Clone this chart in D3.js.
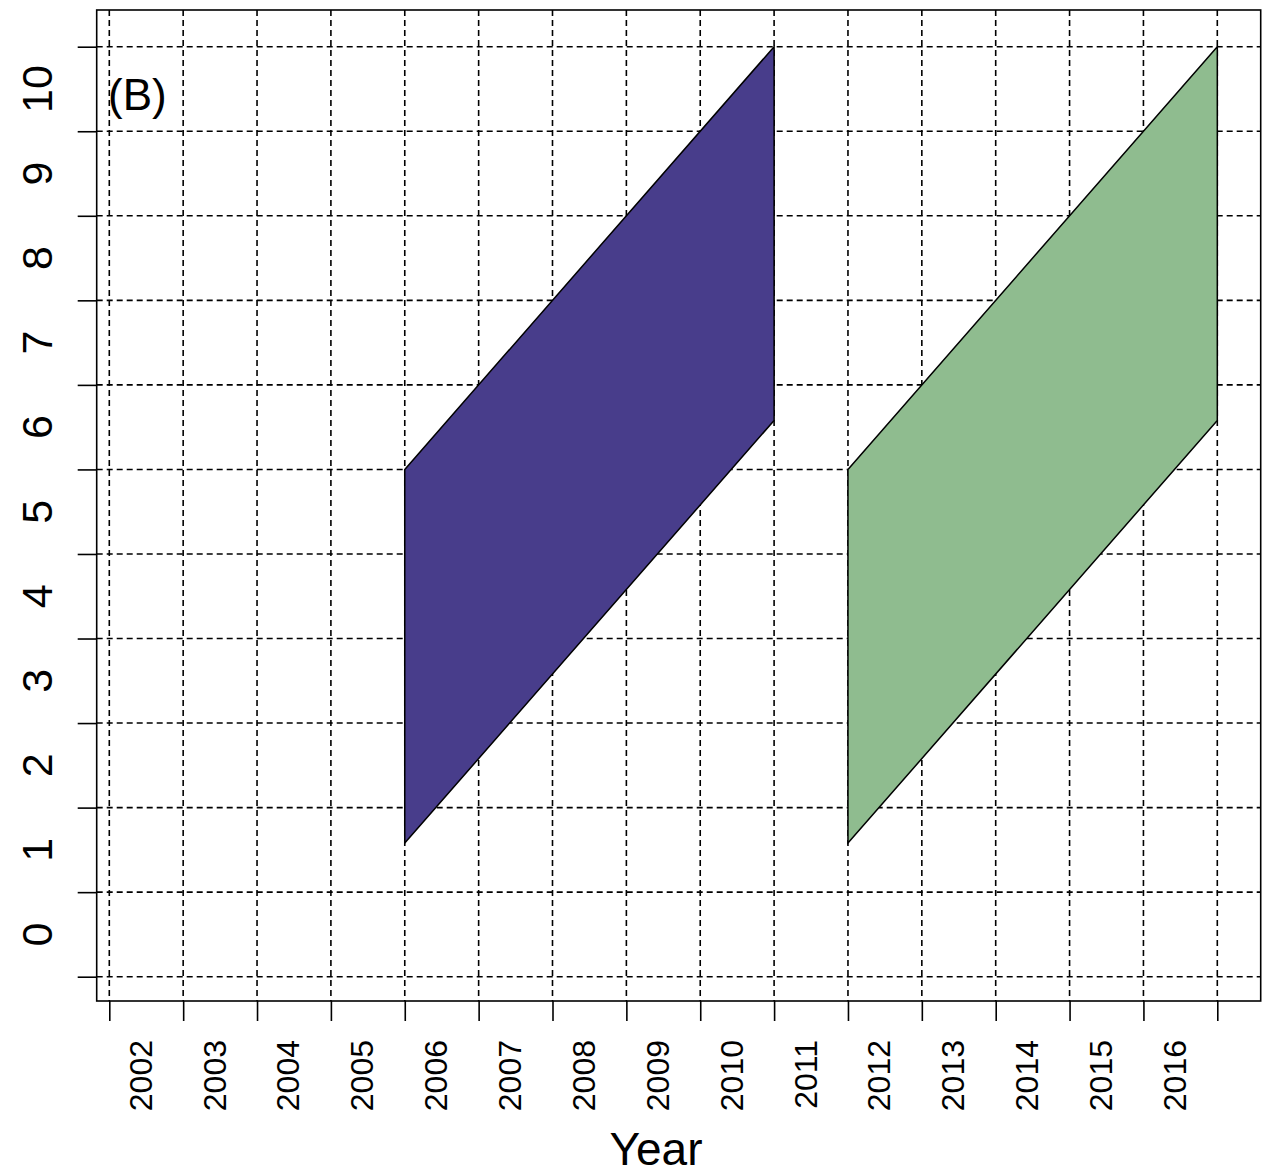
<!DOCTYPE html>
<html>
<head>
<meta charset="utf-8">
<script src="https://cdn.jsdelivr.net/npm/d3@7"></script>
<style>
  body { margin: 0; background: #fff; }
  text { font-family: "Liberation Sans", Arial, sans-serif; fill: #000; }
</style>
</head>
<body>
<div id="chart"></div>
<script>
// year labels and value labels
const years = [2002, 2003, 2004, 2005, 2006, 2007, 2008, 2009, 2010, 2011, 2012, 2013, 2014, 2015, 2016];
const levels = [0, 1, 2, 3, 4, 5, 6, 7, 8, 9, 10];

// tick / grid positions sit half a step off the labels
const xGrid = [2001.5, 2002.5, 2003.5, 2004.5, 2005.5, 2006.5, 2007.5, 2008.5, 2009.5, 2010.5, 2011.5, 2012.5, 2013.5, 2014.5, 2015.5, 2016.5];
const yGrid = [-0.5, 0.5, 1.5, 2.5, 3.5, 4.5, 5.5, 6.5, 7.5, 8.5, 9.5, 10.5];

// the two bands: [year, value] corners
const bandA = [[2005.5, 5.5], [2010.5, 10.5], [2010.5, 6.08], [2005.5, 1.08]];
const bandB = [[2011.5, 5.5], [2016.5, 10.5], [2016.5, 6.08], [2011.5, 1.08]];
const bandColors = ["#483D8B", "#8FBC8F"];

const width = 1269;
const height = 1176;

// plot box
const boxLeft = 96.7;
const boxRight = 1260.7;
const boxTop = 10;
const boxBottom = 1001;

const svg = d3.select("#chart")
    .append("svg")
    .attr("width", width)
    .attr("height", height);

const x = d3.scaleLinear().domain([2001.5, 2016.5]).range([109.3, 1217.3]);
const y = d3.scaleLinear().domain([-0.5, 10.5]).range([976.7, 46.7]);

// dashed grid (drawn first, bands cover it)
const grid = svg.append("g")
    .attr("stroke", "#000")
    .attr("stroke-width", 1.6)
    .attr("stroke-dasharray", "6,4");

grid.selectAll("line.v")
    .data(xGrid)
    .enter().append("line")
    .attr("class", "v")
    .attr("x1", d => x(d)).attr("x2", d => x(d))
    .attr("y1", boxTop).attr("y2", boxBottom);

grid.selectAll("line.h")
    .data(yGrid)
    .enter().append("line")
    .attr("class", "h")
    .attr("y1", d => y(d)).attr("y2", d => y(d))
    .attr("x1", boxLeft).attr("x2", boxRight);

// bands
const line = d3.line().x(d => x(d[0])).y(d => y(d[1]));
svg.append("g")
    .selectAll("path")
    .data([bandA, bandB])
    .enter().append("path")
    .attr("d", d => line(d) + "Z")
    .attr("fill", (d, i) => bandColors[i])
    .attr("stroke", "#000")
    .attr("stroke-width", 1.5)
    .attr("stroke-linejoin", "miter");

// box
svg.append("rect")
    .attr("x", boxLeft).attr("y", boxTop)
    .attr("width", boxRight - boxLeft).attr("height", boxBottom - boxTop)
    .attr("fill", "none")
    .attr("stroke", "#000")
    .attr("stroke-width", 1.6);

// x axis ticks and labels
const xAxis = svg.append("g")
    .attr("transform", `translate(0,${boxBottom})`)
    .call(d3.axisBottom(x).tickValues(xGrid).tickSize(20).tickFormat(""));
xAxis.select(".domain").remove();
xAxis.selectAll(".tick line").attr("stroke-width", 1.6);

svg.append("g")
    .selectAll("text")
    .data(years)
    .enter().append("text")
    .attr("transform", d => `translate(${x(d) - 6 + 11.5},1040) rotate(-90)`)
    .attr("text-anchor", "end")
    .attr("font-size", 32)
    .text(d => d);

// y axis ticks and labels
const yAxis = svg.append("g")
    .attr("transform", `translate(${boxLeft},0)`)
    .call(d3.axisLeft(y).tickValues(yGrid).tickSize(19).tickFormat(""));
yAxis.select(".domain").remove();
yAxis.selectAll(".tick line").attr("stroke-width", 1.6);

svg.append("g")
    .selectAll("text")
    .data(levels)
    .enter().append("text")
    .attr("transform", d => `translate(52,${y(d)}) rotate(-90)`)
    .attr("text-anchor", "middle")
    .attr("font-size", 43)
    .text(d => d);

// panel tag and axis title
svg.append("text")
    .attr("x", 108)
    .attr("y", 110)
    .attr("font-size", 44)
    .text("(B)");

svg.append("text")
    .attr("x", 656)
    .attr("y", 1165)
    .attr("text-anchor", "middle")
    .attr("font-size", 46)
    .text("Year");
</script>
</body>
</html>
